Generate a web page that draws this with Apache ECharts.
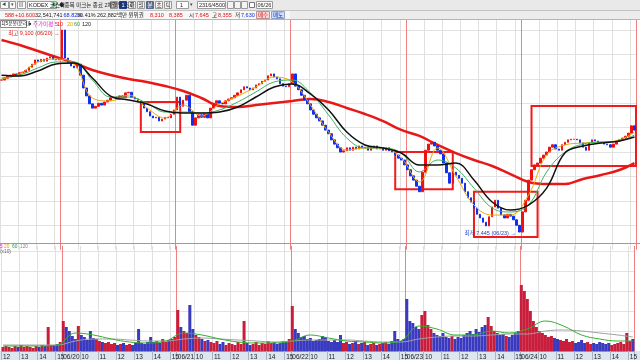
<!DOCTYPE html>
<html><head><meta charset="utf-8">
<script src="https://cdn.jsdelivr.net/npm/echarts@6/dist/echarts.min.js"></script>
<style>html,body{margin:0;padding:0;background:#fff}#c{width:640px;height:360px}</style>
</head><body><div id="c"></div>
<script>
// ---------- data ----------
const days = ['06/19','06/20','06/21','06/22','06/23','06/24'];
const sessionTimes = ['09:00','09:10','09:20','09:30','09:40','09:50','10:00','10:10','10:20','10:30','10:40','10:50',
  '11:00','11:10','11:20','11:30','11:40','11:50','12:00','12:10','12:20','12:30','12:40','12:50',
  '13:00','13:10','13:20','13:30','13:40','13:50','14:00','14:10','14:20','14:30','14:40','14:50','15:00','15:10'];
const firstSessionStart = '12:00';

const closes = [
  8690,8705,8725,8730,8740,8730,8750,8755,8770,8795,
  8820,8855,8840,8860,8845,8870,8880,8860,8855,8870,
  9100,8870,8830,8805,8790,8820,8730,8625,8560,8495,
  8460,8475,8500,8485,8510,8525,8545,8550,8535,8560,
  8545,8585,8590,8550,8535,8510,8495,8460,8430,8395,
  8380,8385,8355,8370,8385,8380,8410,8445,8550,8475,
  8525,8565,8430,8320,8380,8405,8385,8410,8380,8460,
  8500,8520,8500,8495,8520,8535,8545,8565,8585,8610,
  8635,8625,8610,8625,8650,8660,8680,8690,8725,8740,
  8715,8700,8660,8640,8635,8660,8740,8640,8610,8565,
  8525,8495,8445,8410,8380,8355,8320,8280,8250,8200,
  8165,8135,8100,8110,8135,8115,8140,8125,8150,8135,
  8140,8115,8135,8150,8125,8135,8115,8135,8110,8100,
  8075,8050,8035,7995,7955,7905,7870,7820,7775,7935,
  8115,8165,8180,8150,8115,8085,8010,7930,7845,7935,
  7910,7885,7845,7775,7725,7690,7640,7590,7560,7525,
  7495,7570,7650,7705,7640,7585,7560,7590,7575,7545,
  7500,7445,7610,7705,7870,7955,7995,8010,8050,8075,
  8100,8140,8160,8125,8115,8160,8180,8200,8205,8205,
  8200,8175,8140,8115,8175,8200,8190,8180,8175,8165,
  8160,8140,8165,8190,8200,8215,8230,8255,8315,8280
];

const volumes = [
  40,50,40,30,50,40,60,40,50,40,30,50,40,60,50,240,60,50,70,90,
  300,240,200,150,120,250,160,140,110,200,130,120,100,90,80,90,70,80,60,70,80,60,70,60,80,220,80,70,90,140,90,100,80,120,90,110,120,140,
  410,240,200,180,460,220,160,140,120,100,110,90,80,100,70,90,60,80,70,60,90,70,300,80,60,70,90,60,80,70,100,80,90,70,80,100,90,120,
  450,220,180,140,150,120,130,100,110,120,150,140,100,90,110,90,160,80,90,70,80,100,70,80,90,60,70,80,60,70,80,90,70,100,200,120,100,120,
  520,300,280,240,220,360,400,260,220,180,160,150,180,140,130,150,120,140,130,160,180,200,170,220,190,240,260,340,250,200,180,160,170,150,140,160,180,200,
  660,600,520,400,300,240,200,180,160,140,150,130,120,110,100,120,90,100,80,90,110,80,90,70,80,70,90,80,70,80,60,70,80,90,70,180,100,120
];

const maSlots = [0,6,12,18,24,30,36,42,48,54,60,66,72,78,84,90,96,102,108,114,120,126,132,138,144,150,156,162,168,174,180,186,192,198,204,209];
const maShort = [8699,8740,8838,8862,8821,8543,8518,8567,8461,8379,8486,8395,8494,8559,8633,8715,8674,8486,8264,8117,8133,8133,8051,7855,8133,7904,7666,7584,7584,7748,8076,8158,8174,8182,8199,8264];
const maMid   = [8707,8731,8789,8838,8838,8690,8551,8551,8502,8428,8428,8420,8445,8510,8592,8674,8690,8584,8404,8215,8133,8133,8092,7937,8035,7969,7805,7642,7609,7666,7937,8100,8166,8182,8191,8240];
const maLong  = [8730,8723,8764,8821,8830,8707,8559,8527,8494,8436,8420,8420,8428,8469,8551,8633,8658,8576,8445,8264,8158,8133,8092,7994,7994,8010,7871,7691,7625,7666,7805,8092,8150,8174,8191,8223];
const maDaily = [9018,8977,8928,8879,8830,8772,8731,8699,8674,8641,8600,8543,8477,8469,8486,8502,8518,8535,8510,8461,8412,8354,8281,8232,8158,8092,8035,7986,7920,7855,7838,7838,7879,7912,7953,8010];
const volMaMid  = [50,50,50,60,180,160,120,90,80,100,180,160,120,90,80,80,100,160,130,100,90,80,100,250,220,160,160,200,180,220,300,250,160,120,100,100];
const volMaLong = [60,60,60,60,100,120,120,110,100,100,120,130,120,110,100,90,100,110,110,110,100,90,90,120,140,150,150,160,170,170,200,210,200,180,160,140];

const boxes = [[46,59,8510,8265],[130,149,8100,7795],[156,177,7775,7405],[175,null,8477,7986]];
const highText = '최고 9,100 (06/20) →';
const lowText = '최저 7,445 (06/23) →';

// ---------- build ----------
const cats = [];
days.forEach((d,k)=>{
  const ts = k===0 ? sessionTimes.slice(sessionTimes.indexOf(firstSessionStart)) : sessionTimes;
  ts.forEach(t=>cats.push(d+' '+t));
});
const ohlc = closes.map((c,i)=>{const o = i? closes[i-1]:c; return [o,c,Math.min(o,c),Math.max(o,c)];});
const expand = arr => { const f = new Array(cats.length).fill(null); maSlots.forEach((s,j)=>f[s]=arr[j]); return f; };
const hiIdx = closes.indexOf(Math.max(...closes));
const loIdx = closes.indexOf(Math.min(...closes));
const isHour = (idx, val) => String(val).endsWith(':00');
const fmt = v => { const p = v.split(' '); return p[1]==='09:00' ? p[0] : String(parseInt(p[1],10)); };
const G = '#e0e0e0', R = '#ee8080';
const vColors = [G,G,G,G,R,G,G];
const UP = '#f01010', DN = '#1030f0';

const FONT = '"Liberation Sans","Noto Sans CJK KR",sans-serif';
function txt(x,y,s,color,size,extra){return Object.assign({type:'text',x:x,y:y,z:101,style:{text:s,fill:color||'#222',font:(size||5.5)+'px '+FONT,textVerticalAlign:'middle'}},extra||{});}
function box(x,y,w,h,fill,stroke){return {type:'rect',z:100,shape:{x:x,y:y,width:w,height:h},style:{fill:fill,stroke:stroke||null,lineWidth:1}};}

const graphics = [
  box(0,0,640,10,'#e9e9e9'),
  {type:'line',z:100,shape:{x1:0,y1:10.5,x2:640,y2:10.5},style:{stroke:'#c4c4c4'}},
  box(0,11,640,8.5,'#ececec'),
  box(0,11,290,8.5,'#f7f7f7'),
  {type:'line',z:100,shape:{x1:0,y1:19.5,x2:640,y2:19.5},style:{stroke:'#b4b4b4'}},
  box(0.5,1.5,8,7,'#fafafa','#9a9a9a'), txt(2,5,'◀','#444',4),
  box(9.5,1.5,6,7,'#fafafa','#9a9a9a'), txt(10.5,5,'▾','#444',5),
  box(17.5,1.5,8,7,'#fafafa','#9a9a9a'), txt(18.5,5,'▤','#444',5),
  box(27.5,1.5,29,7,'#ffffff','#9a9a9a'), txt(29,5,'KODEX 코스닥','#111',5.5), box(52.5,2.5,3,4,'#2aa84a'),
  txt(59,5,'◆종목 마크는 종료 2체결일 조회','#222',5.5),
  box(110.5,1.5,7,7,'#e4dada','#9a9a9a'), txt(111.5,5,'일','#333',5.5),
  box(119.5,1.5,7,7,'#1d3d8f','#1d3d8f'), txt(121.5,5,'1','#fff',5.5),
  box(128.5,1.5,7,7,'#f4f4f4','#9a9a9a'), txt(129.5,5,'주','#333',5.5),
  box(137.5,1.5,7,7,'#f4f4f4','#9a9a9a'), txt(138.5,5,'월','#333',5.5),
  box(146.5,1.5,7,7,'#5a6a8a','#5a6a8a'), txt(147.5,5,'분','#fff',5.5),
  box(155.5,1.5,7,7,'#f4f4f4','#9a9a9a'), txt(156.5,5,'초','#333',5.5),
  box(164.5,1.5,7,7,'#f4f4f4','#9a9a9a'), txt(165.5,5,'틱','#333',5.5),
  box(176.5,1.5,12,7,'#ffffff','#9a9a9a'), txt(180,5,'1','#222',5.5), txt(190,5,'▾','#444',5),
  box(197.5,1.5,28,7,'#ffffff','#9a9a9a'), txt(199,5,'2316/4500','#222',5.5),
  box(227.5,1.5,6,7,'#f4f4f4','#9a9a9a'), box(234.5,1.5,6,7,'#f4f4f4','#9a9a9a'), box(241.5,1.5,6,7,'#f4f4f4','#9a9a9a'),
  box(249.5,2.5,5,5,'#ffffff','#777'),
  box(256.5,1.5,16,7,'#ffffff','#9a9a9a'), txt(257.5,5,'06/26','#222',5.5),
  txt(5,15,'588','#e01010'), txt(15,15,'+10.600','#e01010'),
  txt(35,15,'32,541,741','#222'), txt(63.5,15,'68.82%','#1030d0'), txt(77,15,'30.41%','#222'),
  txt(97,15,'262,882백만 원위권','#222'),
  txt(150,15,'8,310','#e01010'), txt(169,15,'8,385','#e01010'),
  txt(189,15,'시','#222'), txt(195,15,'7,645','#e01010'),
  txt(212,15,'고','#222'), txt(218,15,'8,355','#e01010'),
  txt(235,15,'저','#222'), txt(241,15,'7,630','#1030d0'),
  box(256.5,11.5,13,7,'#f8d8d8','#c09090'), txt(258,15,'매수','#d01010'),
  box(271.5,11.5,13,7,'#d0ddf4','#90a0c0'), txt(273,15,'매도','#1030d0'),
  // chart legend row
  box(0.5,20.5,26,7,'#ffffff','#888'), txt(1.5,24,'1[5분봉(분리)]','#222',4.8),
  txt(29,24,'■','#333',4), txt(33,24,'주가이평 5','#e020c0'), txt(57,24,'10','#e01010'),
  txt(67,24,'20','#e0a000'), txt(74,24,'60','#20a040'), txt(82,24,'120','#222'),
  // separator between panels
  {type:'line',z:100,shape:{x1:0,y1:243.5,x2:640,y2:243.5},style:{stroke:'#9c9c9c'}},
  txt(0,247,'5','#e020c0',4.8), txt(4,247,'20','#e0a000',4.8), txt(12,247,'60','#20a040',4.8), txt(20,247,'120','#888',4.8),
  txt(0,251.5,'(x10)','#666',4.8),
  // bottom axis band
  {type:'rect',z:-1,shape:{x:0,y:351,width:640,height:9},style:{fill:'#dce6f0'}}
];

const splitV = {show:true, interval:isHour, lineStyle:{color:vColors, width:1}};

const option = {
  animation:false,
  backgroundColor:'#ffffff',
  grid:[
    {left:-1, right:4, top:17.8, height:231.9},
    {left:-1, right:4, top:246, height:105}
  ],
  xAxis:[
    {gridIndex:0, type:'category', data:cats, boundaryGap:true, axisLine:{show:false}, axisTick:{show:false}, axisLabel:{show:false}, splitLine:splitV},
    {gridIndex:1, type:'category', data:cats, boundaryGap:true,
     axisLine:{show:true, lineStyle:{color:'#8796aa'}},
     axisTick:{show:true, interval:isHour, length:9, lineStyle:{color:'#a8b4c6'}},
     axisLabel:{show:true, interval:isHour, formatter:fmt, fontSize:6.5, color:'#222', align:'left', margin:2.5, fontFamily:FONT},
     splitLine:splitV}
  ],
  yAxis:[
    {gridIndex:0, type:'value', min:7300, max:9200, interval:200, axisLine:{show:false}, axisTick:{show:false}, axisLabel:{show:false},
     splitLine:{show:true, lineStyle:{color:['transparent','#e2e2e2','#e2e2e2','#e2e2e2','#e2e2e2','#e2e2e2','#e2e2e2','#e2e2e2','#e2e2e2','#e2e2e2']}}},
    {gridIndex:1, type:'value', min:0, max:1050, interval:200, axisLine:{show:false}, axisTick:{show:false}, axisLabel:{show:false},
     splitLine:{show:true, lineStyle:{color:['transparent','#e2e2e2','#e2e2e2','#e2e2e2','#e2e2e2','#e2e2e2']}}}
  ],
  graphic: graphics,
  series:[
    {type:'line', xAxisIndex:0, yAxisIndex:0, data:expand(maDaily), connectNulls:true, smooth:0.4, showSymbol:false, lineStyle:{color:'#e81818', width:2.5}, z:2},
    {type:'candlestick', xAxisIndex:0, yAxisIndex:0, data:ohlc, barWidth:2, z:3,
     itemStyle:{color:UP, color0:DN, borderColor:UP, borderColor0:DN, borderWidth:1},
     markArea:{silent:true, itemStyle:{color:'rgba(0,0,0,0)', borderColor:'#ee1c1c', borderWidth:2},
       data: boxes.map(b=> b[1]===null
         ? [{xAxis:cats[b[0]], yAxis:b[2]},{yAxis:b[3]}]
         : [{xAxis:cats[b[0]], yAxis:b[2]},{xAxis:cats[b[1]], yAxis:b[3]}])},
     markPoint:{silent:true, symbol:'circle', symbolSize:1, itemStyle:{color:'rgba(0,0,0,0)'},
       data:[
         {coord:[cats[hiIdx], closes[hiIdx]], label:{show:true, formatter:highText, position:'left', distance:2, offset:[0,3], color:'#e01010', fontSize:5.5, fontFamily:FONT}},
         {coord:[cats[loIdx], closes[loIdx]], label:{show:true, formatter:lowText, position:'left', distance:3, offset:[0,1], color:'#2040c0', fontSize:5.5, fontFamily:FONT}}
       ]}},
    {type:'line', xAxisIndex:0, yAxisIndex:0, data:expand(maShort), connectNulls:true, smooth:0.4, showSymbol:false, lineStyle:{color:'#f0a800', width:1}, z:4},
    {type:'line', xAxisIndex:0, yAxisIndex:0, data:expand(maMid), connectNulls:true, smooth:0.4, showSymbol:false, lineStyle:{color:'#40b060', width:1}, z:4},
    {type:'line', xAxisIndex:0, yAxisIndex:0, data:expand(maLong), connectNulls:true, smooth:0.4, showSymbol:false, lineStyle:{color:'#111111', width:1.5}, z:5},
    {type:'bar', xAxisIndex:1, yAxisIndex:1, barCategoryGap:'0%', z:3,
     data: volumes.map((v,i)=>({value:v, itemStyle:{color: ohlc[i][1]>=ohlc[i][0] ? '#c81e3c' : '#3a3ac0'}}))},
    {type:'line', xAxisIndex:1, yAxisIndex:1, data:expand(volMaLong), connectNulls:true, smooth:0.4, showSymbol:false, lineStyle:{color:'#a0a0a0', width:1}, z:4},
    {type:'line', xAxisIndex:1, yAxisIndex:1, data:expand(volMaMid), connectNulls:true, smooth:0.4, showSymbol:false, lineStyle:{color:'#30b030', width:1}, z:4}
  ]
};
const chart = echarts.init(document.getElementById('c'), null, {renderer:'canvas'});
chart.setOption(option);
</script></body></html>
